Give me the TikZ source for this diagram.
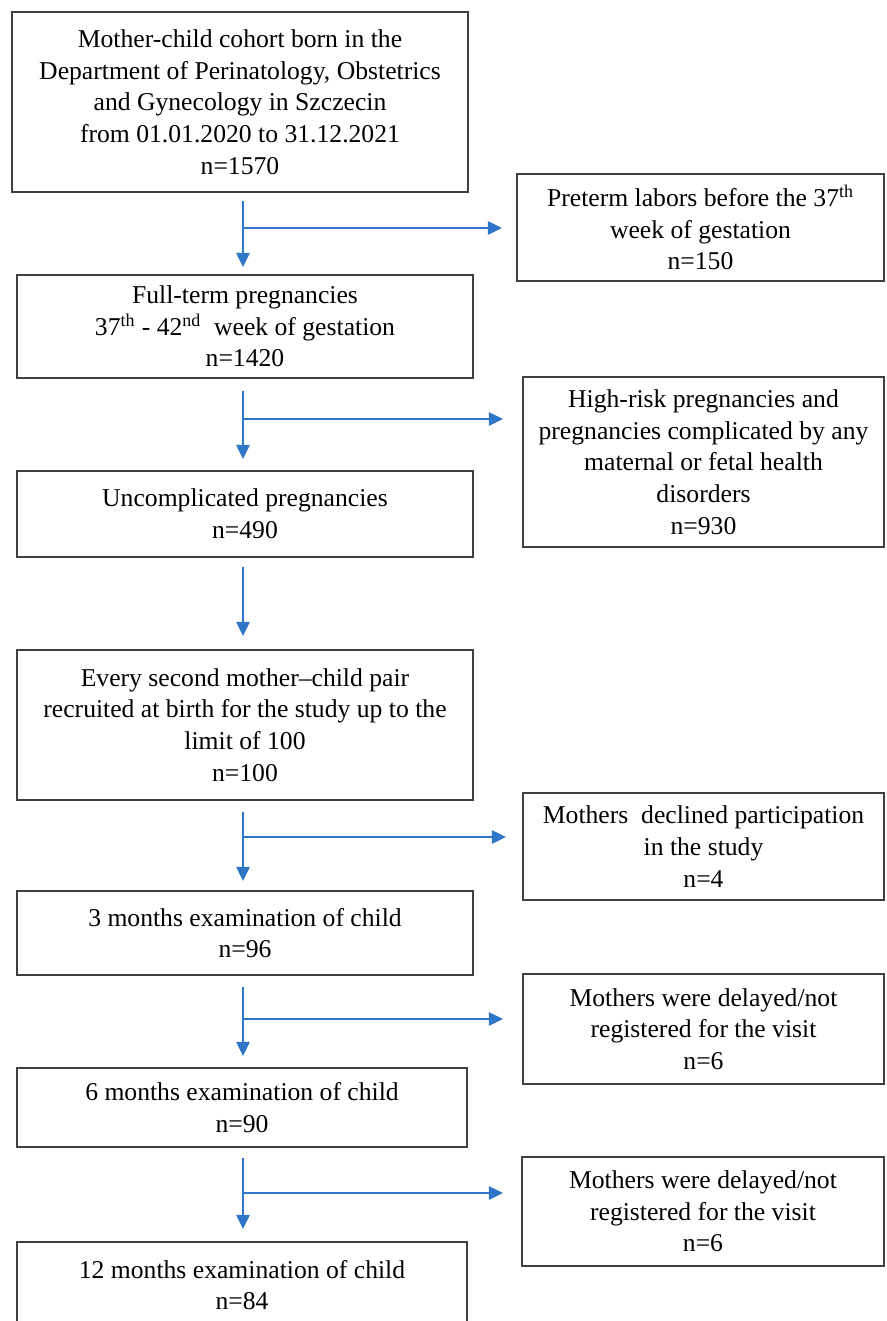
\documentclass[tikz,border=0pt]{standalone}
\usepackage{fontspec}
\setmainfont{Liberation Serif}
\usetikzlibrary{arrows.meta}
\definecolor{flowblue}{RGB}{47,117,200}
\definecolor{boxgray}{RGB}{64,64,64}
\tikzset{
    box/.style={draw=boxgray, line width=1.1pt, align=center, inner sep=0pt,
        font=\fontsize{14.6}{18}\selectfont},
    sz/.style 2 args={minimum width=#1*0.02cm, minimum height=#2*0.02cm},
    flow/.style={draw=flowblue, line width=1.1pt, -{Triangle[length=8pt,width=7.5pt]}}
}
\begin{document}
\begin{tikzpicture}[x=0.02cm, y=-0.02cm]
    \clip (0, 0) rectangle (886, 1321);

    % left column
    \node[box, sz={456}{180}] (cohort) at (240, 102) {Mother-child cohort born in the\\Department of Perinatology, Obstetrics\\and Gynecology in Szczecin\\from 01.01.2020 to 31.12.2021\\n=1570};
    \node[box, sz={456}{103}] (fullterm) at (245, 326.5) {Full-term pregnancies\\37\textsuperscript{th} - 42\textsuperscript{nd}\ \ week of gestation\\n=1420};
    \node[box, sz={456}{86}] (uncompl) at (245, 514) {Uncomplicated pregnancies\\n=490};
    \node[box, sz={456}{150}] (recruit) at (245, 725) {Every second mother--child pair\\recruited at birth for the study up to the\\limit of 100\\n=100};
    \node[box, sz={456}{84}] (month3) at (245, 933) {3 months examination of child\\n=96};
    \node[box, sz={450}{79}] (month6) at (242, 1107.5) {6 months examination of child\\n=90};
    \node[box, sz={450}{86}] (month12) at (242, 1285) {12 months examination of child\\n=84};

    % right column
    \node[box, sz={367}{107}] (preterm) at (700.5, 227.5) {Preterm labors before the 37\textsuperscript{th}\\week of gestation\\n=150};
    \node[box, sz={361}{170}] (highrisk) at (703.5, 462) {High-risk pregnancies and\\pregnancies complicated by any\\maternal or fetal health\\disorders\\n=930};
    \node[box, sz={361}{107}] (declined) at (703.5, 846.5) {Mothers\ \ declined participation\\in the study\\n=4};
    \node[box, sz={361}{110}] (delay1) at (703.5, 1029) {Mothers were delayed/not\\registered for the visit\\n=6};
    \node[box, sz={362}{109}] (delay2) at (703, 1211.5) {Mothers were delayed/not\\registered for the visit\\n=6};

    % branch points
    \coordinate (j1) at (243, 228);
    \coordinate (j2) at (243, 419);
    \coordinate (j3) at (243, 600);
    \coordinate (j4) at (243, 837);
    \coordinate (j5) at (243, 1019);
    \coordinate (j6) at (243, 1193);

    \draw[flow, shorten <=0.16cm, shorten >=0.14cm] (cohort.south -| j1) -- (fullterm.north -| j1);
    \draw[flow, shorten >=0.28cm] (j1) -- (j1 -| preterm.west);
    \draw[flow, shorten <=0.24cm, shorten >=0.22cm] (fullterm.south -| j2) -- (uncompl.north -| j2);
    \draw[flow, shorten >=0.38cm] (j2) -- (j2 -| highrisk.west);
    \draw[flow, shorten <=0.18cm, shorten >=0.26cm] (uncompl.south -| j3) -- (recruit.north -| j3);
    \draw[flow, shorten <=0.22cm, shorten >=0.18cm] (recruit.south -| j4) -- (month3.north -| j4);
    \draw[flow, shorten >=0.32cm] (j4) -- (j4 -| declined.west);
    \draw[flow, shorten <=0.22cm, shorten >=0.22cm] (month3.south -| j5) -- (month6.north -| j5);
    \draw[flow, shorten >=0.38cm] (j5) -- (j5 -| delay1.west);
    \draw[flow, shorten <=0.2cm, shorten >=0.24cm] (month6.south -| j6) -- (month12.north -| j6);
    \draw[flow, shorten >=0.36cm] (j6) -- (j6 -| delay2.west);
\end{tikzpicture}
\end{document}
